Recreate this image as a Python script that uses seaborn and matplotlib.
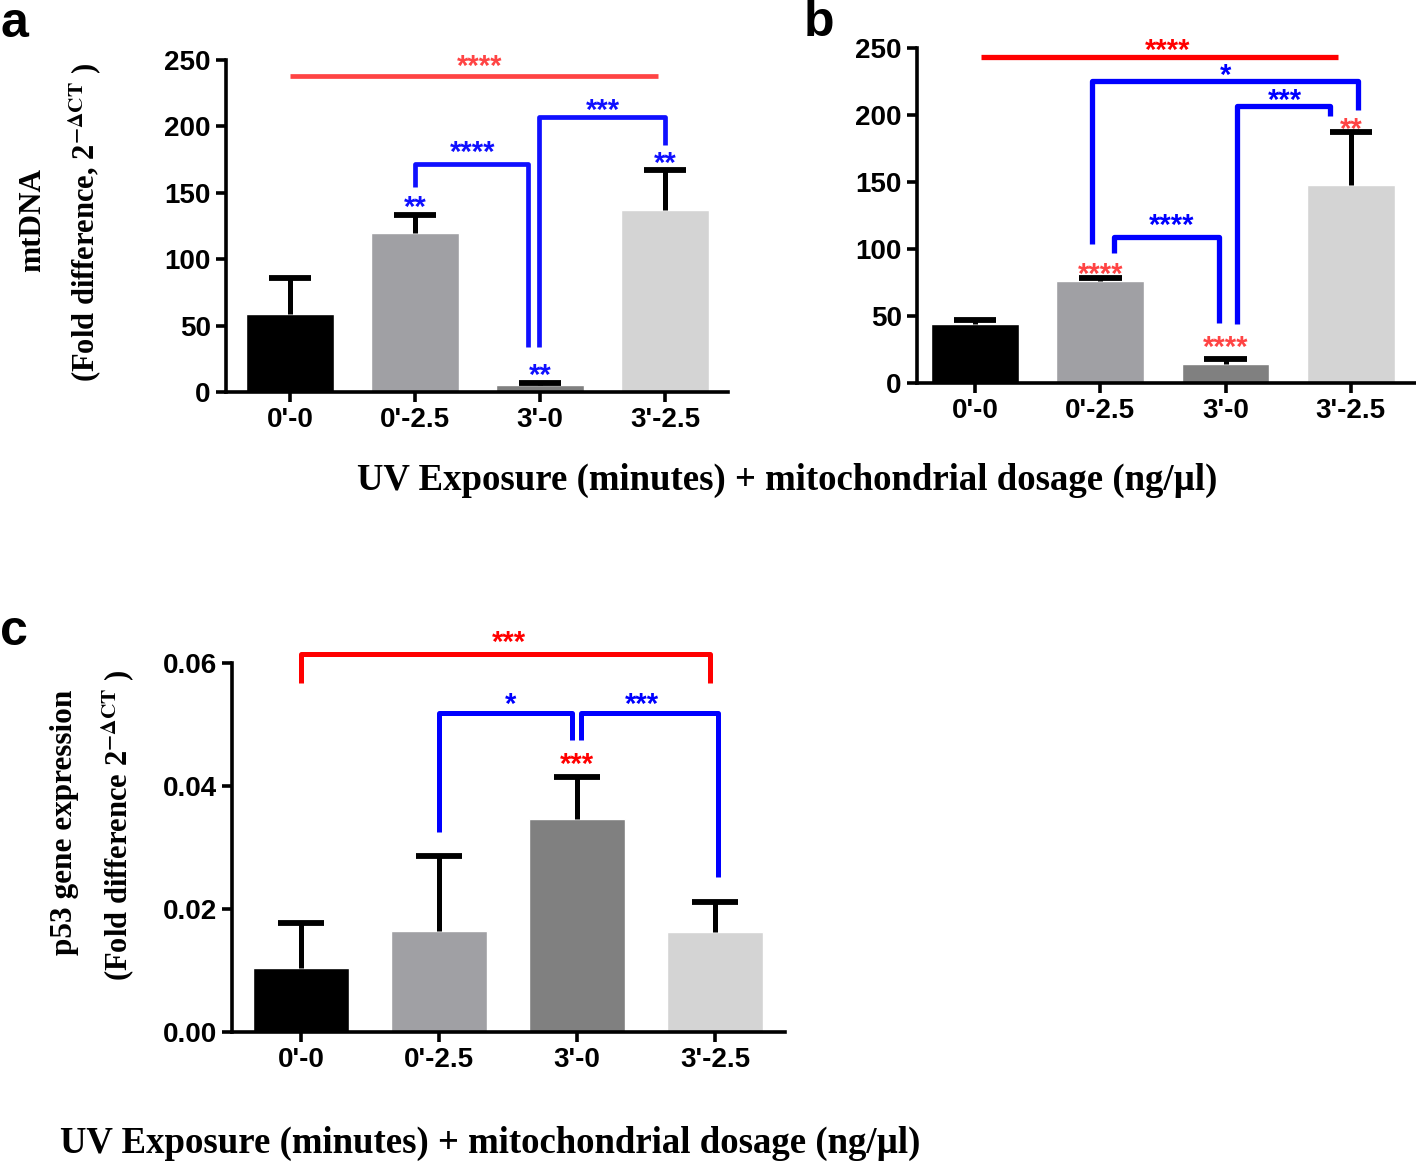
import matplotlib
matplotlib.use('Agg')
import matplotlib.pyplot as plt
import seaborn as sns
import pandas as pd
import numpy as np

# Datos -------------------------------------------------
groups = ["0'-0", "0'-2.5", "3'-0", "3'-2.5"]

mtdna_a = [59, 120, 5, 137]
mtdna_a_top = [86, 133, 7, 167]      # extremo superior de la barra de error

mtdna_b = [44, 76, 14, 148]
mtdna_b_top = [47, 78, 18, 187]

p53 = [0.0104, 0.0165, 0.0346, 0.0162]
p53_top = [0.0177, 0.0286, 0.0415, 0.0211]

bar_colors = ['#000000', '#a0a0a4', '#808080', '#d4d4d4']

# Anotaciones (x1, y1, y_top, x2, y2, texto, x_texto, y_texto, color)
brackets_a = [
    (0.0, 238, 238, 2.94, 238, '****', 1.52, 249, '#ff4444'),
    (1.0, 154, 172, 1.90, 34, '****', 1.46, 184, '#1010ff'),
    (1.99, 34, 207, 3.0, 186, '***', 2.50, 216, '#1010ff'),
]
stars_a = [(1, 143, '**', '#1010ff'), (2, 16, '**', '#1010ff'), (3, 176, '**', '#1010ff')]

brackets_b = [
    (0.05, 243, 243, 2.90, 243, '****', 1.54, 252, '#ff0000'),
    (0.93, 104, 225, 3.06, 204, '*', 2.00, 233, '#0000ff'),
    (2.09, 44, 207, 2.83, 199, '***', 2.47, 215, '#0000ff'),
    (1.11, 97, 109, 1.95, 45, '****', 1.57, 121, '#0000ff'),
]
stars_b = [(1, 85, '****', '#ff4444'), (2, 30, '****', '#ff4444'), (3, 193, '**', '#ff4444')]

brackets_c = [
    (0.0, 0.0567, 0.0615, 2.96, 0.0567, '***', 1.51, 0.0642, '#ff0000'),
    (1.0, 0.0325, 0.0519, 1.96, 0.0475, '*', 1.52, 0.0541, '#0000ff'),
    (2.03, 0.0475, 0.0519, 3.02, 0.0252, '***', 2.47, 0.0541, '#0000ff'),
]
stars_c = [(2, 0.0443, '***', '#ff0000')]

# Estilo -------------------------------------------------
sns.set_style('ticks')
plt.rcParams['font.family'] = ['Liberation Sans', 'DejaVu Sans']
plt.rcParams['mathtext.fontset'] = 'stix'
for k in ['text.color', 'axes.labelcolor', 'xtick.color', 'ytick.color', 'axes.edgecolor']:
    plt.rcParams[k] = 'black'

serif = ['Liberation Serif', 'DejaVu Serif']
star_font = ['Liberation Sans', 'DejaVu Sans']


def panel(ax, values, tops, brackets, stars, yticks, ylim, xlim, fmt, lw):
    datos = pd.DataFrame({'grupo': groups, 'valor': values})
    sns.barplot(data=datos, x='grupo', y='valor', hue='grupo', palette=bar_colors,
                legend=False, errorbar=None, width=0.7, saturation=1, ax=ax)
    # barra de error solo hacia arriba, con una sola tapa
    pos = np.arange(len(groups))
    ax.vlines(pos, values, tops, color='black', lw=3.6, zorder=3)
    ax.hlines(tops, pos - 0.17, pos + 0.17, color='black', lw=4.2, zorder=3)
    ax.set_xlim(*xlim)
    ax.set_ylim(*ylim)
    ax.set_yticks(yticks)
    ax.set_yticklabels([fmt.format(t) for t in yticks])
    ax.set_xlabel('')
    ax.set_ylabel('')
    for s in ['top', 'right']:
        ax.spines[s].set_visible(False)
    for s in ['left', 'bottom']:
        ax.spines[s].set_linewidth(2.6)
        ax.spines[s].set_color('black')
    ax.tick_params(width=2.6, length=7, labelsize=20, pad=4, colors='black')
    for lab in ax.get_xticklabels() + ax.get_yticklabels():
        lab.set_fontweight('bold')
    for x1, y1, yt, x2, y2, txt, tx, ty, col in brackets:
        ax.plot([x1, x1, x2, x2], [y1, yt, yt, y2], color=col, lw=lw,
                solid_joinstyle='round', solid_capstyle='butt', clip_on=False, zorder=4)
        ax.annotate(txt, (tx, ty), xytext=(0, -4), textcoords='offset points',
                    ha='center', va='center', color=col, fontsize=21,
                    fontweight='bold', family=star_font, annotation_clip=False)
    for x, y, txt, col in stars:
        ax.annotate(txt, (x, y), xytext=(0, -4), textcoords='offset points',
                    ha='center', va='center', color=col, fontsize=21,
                    fontweight='bold', family=star_font, annotation_clip=False, zorder=5)


fig = plt.figure(figsize=(14.16, 11.64), dpi=100)
W, H = 1416, 1164


def box(l, r, t, b):
    return [l / W, 1 - b / H, (r - l) / W, (b - t) / H]


ax_a = fig.add_axes(box(226, 728, 60, 392))
ax_b = fig.add_axes(box(917, 1416, 48, 383))
ax_c = fig.add_axes(box(232, 785, 663, 1032))

panel(ax_a, mtdna_a, mtdna_a_top, brackets_a, stars_a, [0, 50, 100, 150, 200, 250],
      (0, 250), (-0.512, 3.504), '{:.0f}', 3.4)
panel(ax_b, mtdna_b, mtdna_b_top, brackets_b, stars_b, [0, 50, 100, 150, 200, 250],
      (0, 250), (-0.463, 3.52), '{:.0f}', 3.8)
panel(ax_c, p53, p53_top, brackets_c, stars_c, [0, 0.02, 0.04, 0.06],
      (0, 0.06), (-0.5, 3.507), '{:.2f}', 3.6)

# Letras de panel
fig.text(0 / W, 1 - 37 / H, 'a', fontsize=36, fontweight='bold', family=star_font)
fig.text(804 / W, 1 - 36 / H, 'b', fontsize=36, fontweight='bold', family=star_font)
fig.text(0 / W, 1 - 645 / H, 'c', fontsize=36, fontweight='bold', family=star_font)

# Etiquetas de ejes
fig.text(33 / W, 1 - 220 / H, 'mtDNA', rotation=90, ha='center', va='center',
         fontsize=22.5, fontweight='bold', family=serif)
fig.text(85 / W, 1 - 222 / H, r'(Fold difference, 2$^{\mathbf{-\Delta CT}}$ )', rotation=90,
         ha='center', va='center', fontsize=22, fontweight='bold', family=serif)
fig.text(787 / W, 1 - 480 / H, 'UV Exposure (minutes) + mitochondrial dosage (ng/µl)',
         ha='center', va='center', fontsize=26.5, fontweight='bold', family=serif)

fig.text(65 / W, 1 - 822 / H, 'p53 gene expression', rotation=90, ha='center', va='center',
         fontsize=22.5, fontweight='bold', family=serif)
fig.text(118 / W, 1 - 825 / H, r'(Fold difference 2$^{\mathbf{-\Delta CT}}$ )', rotation=90,
         ha='center', va='center', fontsize=22, fontweight='bold', family=serif)
fig.text(490 / W, 1 - 1143 / H, 'UV Exposure (minutes) + mitochondrial dosage (ng/µl)',
         ha='center', va='center', fontsize=26.5, fontweight='bold', family=serif)

fig.savefig('out.png', dpi=100, facecolor='white')
